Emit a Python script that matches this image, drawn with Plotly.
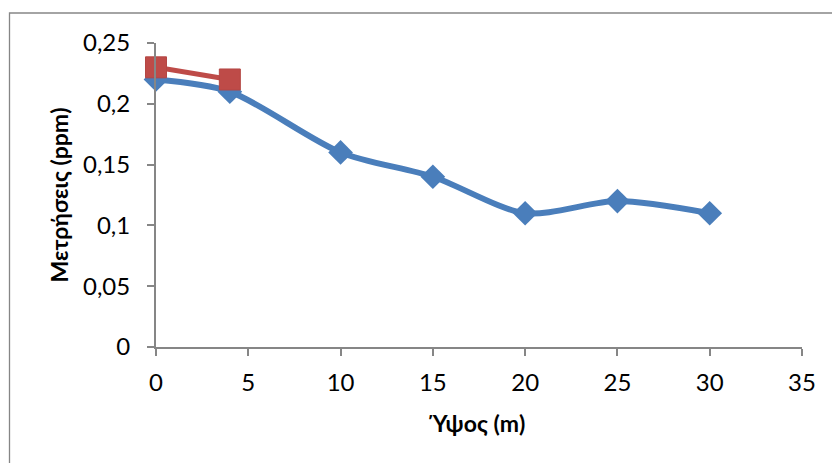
import plotly.graph_objects as go

# Measurements by height
heights_a = [0, 4, 10, 15, 20, 25, 30]
values_a = [0.22, 0.21, 0.16, 0.14, 0.11, 0.12, 0.11]

heights_b = [0, 4]
values_b = [0.23, 0.22]

x_title = "Ύψος (m)"
y_title = "Μετρήσεις (ppm)"

FONT = "Lato, 'Open Sans', 'DejaVu Sans', sans-serif"
AXIS_GRAY = "#868686"

fig = go.Figure()

fig.add_trace(go.Scatter(
    x=heights_a, y=values_a, mode="lines+markers",
    line=dict(color="#4A7EBB", width=6, shape="spline", smoothing=0.8),
    marker=dict(symbol="diamond", size=19, color="#4A7EBB"),
    cliponaxis=False, showlegend=False,
))

fig.add_trace(go.Scatter(
    x=heights_b, y=values_b, mode="lines+markers",
    line=dict(color="#BE4B48", width=5),
    marker=dict(symbol="square", size=21, color="#BE4B48",
                line=dict(color="#B44744", width=1)),
    cliponaxis=False, showlegend=False,
))

L, R, T, B = 156, 30, 43, 116
W, H = 832, 463
pw, ph = W - L - R, H - T - B

# Outer chart frame (top and left edges fall inside the view)
fig.add_shape(
    type="rect", xref="paper", yref="paper",
    x0=(9.5 - L) / pw, x1=(845 - L) / pw,
    y0=-(480 - (H - B)) / ph, y1=((H - B) - 13) / ph,
    line=dict(color=AXIS_GRAY, width=1.3), layer="below",
)

fig.update_layout(
    width=W, height=H,
    margin=dict(l=L, r=R, t=T, b=B),
    paper_bgcolor="white", plot_bgcolor="white",
    separators=",.",
    font=dict(family=FONT, color="#000000", size=24),
    xaxis=dict(
        range=[0, 35], tick0=0, dtick=5,
        showgrid=False, zeroline=False,
        showline=True, linecolor=AXIS_GRAY, linewidth=2,
        ticks="outside", ticklen=7, tickwidth=2, tickcolor=AXIS_GRAY,
        tickfont=dict(size=24), ticklabelstandoff=6,
        title=dict(text="<b>" + x_title + "</b>", font=dict(size=23), standoff=21),
    ),
    yaxis=dict(
        range=[0, 0.25], tick0=0, dtick=0.05,
        showgrid=False, zeroline=False,
        showline=True, linecolor=AXIS_GRAY, linewidth=2,
        ticks="outside", ticklen=7, tickwidth=2, tickcolor=AXIS_GRAY,
        tickfont=dict(size=24), ticklabelstandoff=12,
        title=dict(text="<b>" + y_title + "</b>", font=dict(size=23), standoff=8),
    ),
)

fig.write_html("out.html")
